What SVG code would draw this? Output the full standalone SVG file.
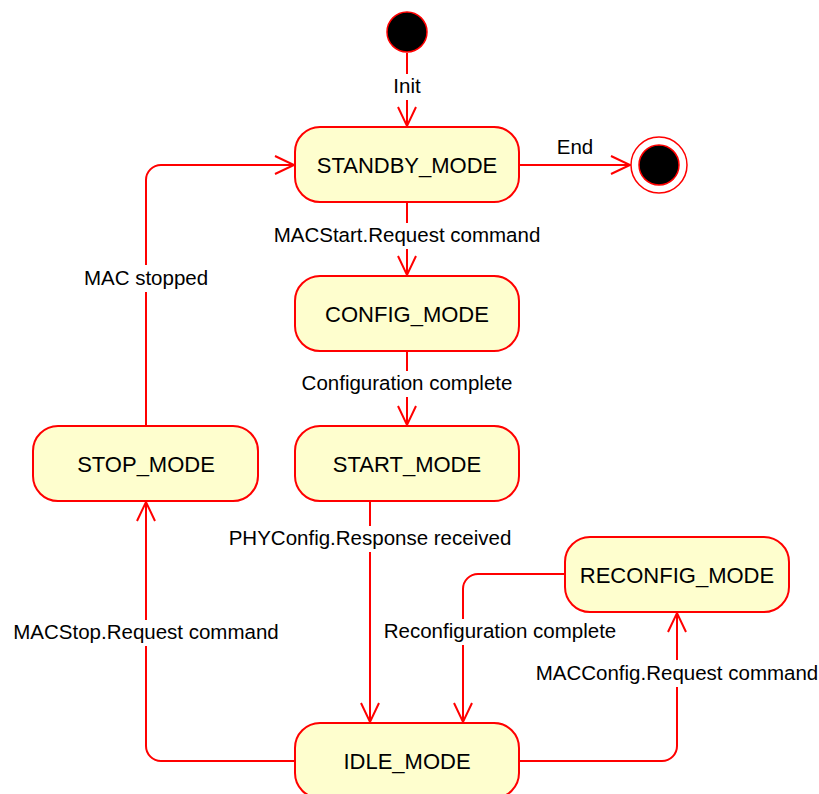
<svg xmlns="http://www.w3.org/2000/svg" width="819" height="794" viewBox="0 0 819 794">
<style>
.node rect{fill:#FEFECE;stroke:#FF0000;stroke-width:2}
.node text{font-family:"Liberation Sans",Arial,sans-serif;font-size:22px;fill:#000;text-anchor:middle}
.edge{fill:none;stroke:#FF0000;stroke-width:2}
.lbl{font-family:"Liberation Sans",Arial,sans-serif;font-size:20.5px;fill:#000;text-anchor:middle}
.bg{fill:#FFFFFF}
</style>
<defs>
<marker id="arr" markerUnits="userSpaceOnUse" markerWidth="24" markerHeight="24" viewBox="-21 -11 24 22" refX="0" refY="0" orient="auto">
<path d="M -19 -9 L 0 0 L -19 9" fill="none" stroke="#FF0000" stroke-width="2"/>
</marker>
</defs>
<rect width="819" height="794" fill="#FFFFFF"/>
<g id="connectors">
<path class="edge" d="M407 53 V126" marker-end="url(#arr)"/>
<path class="edge" d="M519 165 H630" marker-end="url(#arr)"/>
<path class="edge" d="M407 202 V275" marker-end="url(#arr)"/>
<path class="edge" d="M407 351 V425" marker-end="url(#arr)"/>
<path class="edge" d="M370 501 V722" marker-end="url(#arr)"/>
<path class="edge" d="M565 574 H478 A15 15 0 0 0 463 589 V722" marker-end="url(#arr)"/>
<path class="edge" d="M519 761 H662 A15 15 0 0 0 677 746 V613" marker-end="url(#arr)"/>
<path class="edge" d="M295 761 H161 A15 15 0 0 1 146 746 V502" marker-end="url(#arr)"/>
<path class="edge" d="M146 426 V180 A15 15 0 0 1 161 165 H294" marker-end="url(#arr)"/>
<rect class="bg" x="392" y="74" width="30" height="26"/>
<text class="lbl" x="407" y="93">Init</text>
<text class="lbl" x="575" y="154">End</text>
<rect class="bg" x="272" y="223" width="270" height="26"/>
<text class="lbl" x="407" y="242">MACStart.Request command</text>
<rect class="bg" x="300" y="371" width="214" height="26"/>
<text class="lbl" x="407" y="390">Configuration complete</text>
<rect class="bg" x="227" y="526" width="286" height="26"/>
<text class="lbl" x="370" y="545">PHYConfig.Response received</text>
<rect class="bg" x="383" y="619" width="235" height="26"/>
<text class="lbl" x="500" y="638">Reconfiguration complete</text>
<rect class="bg" x="535" y="660" width="284" height="27"/>
<text class="lbl" x="677" y="680">MACConfig.Request command</text>
<rect class="bg" x="12" y="620" width="268" height="26"/>
<text class="lbl" x="146" y="639">MACStop.Request command</text>
<rect class="bg" x="82" y="265" width="128" height="27"/>
<text class="lbl" x="146" y="285">MAC stopped</text>
</g>
<g id="start"><circle cx="407" cy="32" r="20" fill="#000" stroke="#FF0000" stroke-width="1.5"/></g>
<g id="end"><circle cx="659" cy="165" r="28" fill="#FFF" stroke="#FF0000" stroke-width="1.5"/><circle cx="659" cy="165" r="20" fill="#000" stroke="#FF0000" stroke-width="1.5"/></g>
<g id="standby" class="node"><rect x="295" y="127" width="224" height="75" rx="25"/><text x="407" y="173">STANDBY_MODE</text></g>
<g id="config" class="node"><rect x="295" y="276" width="224" height="75" rx="25"/><text x="407" y="322">CONFIG_MODE</text></g>
<g id="startmode" class="node"><rect x="295" y="426" width="224" height="75" rx="25"/><text x="407" y="472">START_MODE</text></g>
<g id="stop" class="node"><rect x="33" y="426" width="225" height="75" rx="25"/><text x="146" y="472">STOP_MODE</text></g>
<g id="reconfig" class="node"><rect x="565" y="537" width="224" height="75" rx="25"/><text x="677" y="583">RECONFIG_MODE</text></g>
<g id="idle" class="node"><rect x="295" y="723" width="224" height="75" rx="25"/><text x="407" y="769">IDLE_MODE</text></g>
</svg>
